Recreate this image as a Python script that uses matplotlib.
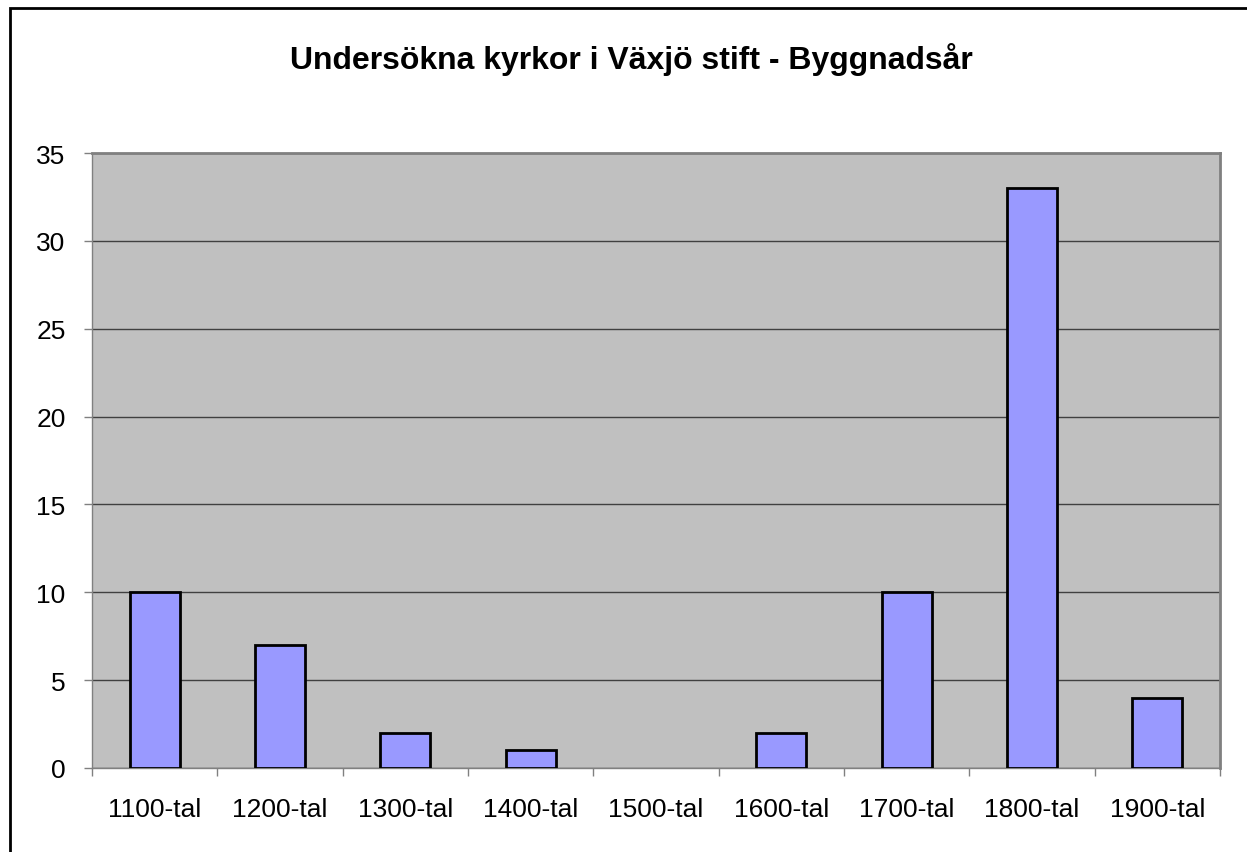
import matplotlib
matplotlib.use("Agg")
import matplotlib.pyplot as plt
from matplotlib.patches import Rectangle
import numpy as np

plt.rcParams['font.family'] = ['Liberation Sans', 'DejaVu Sans']

# data
categories = ['1100-tal', '1200-tal', '1300-tal', '1400-tal', '1500-tal',
              '1600-tal', '1700-tal', '1800-tal', '1900-tal']
counts = [10, 7, 2, 1, 0, 2, 10, 33, 4]
y_ticks = [0, 5, 10, 15, 20, 25, 30, 35]
title = 'Undersökna kyrkor i Växjö stift - Byggnadsår'

fig = plt.figure(figsize=(12.47, 8.53), dpi=100)
ax = fig.add_axes([92 / 1247, 84 / 853, (1220 - 92) / 1247, (769 - 154) / 853])

# outer chart border (left and top visible)
fig.patches.append(Rectangle((10 / 1247, -0.1), 1.2, 1 - 9 / 853 + 0.1,
                             transform=fig.transFigure, fill=False,
                             edgecolor='black', linewidth=2, zorder=0))

x = np.arange(len(categories))
ax.set_facecolor('#c0c0c0')
# zero-height bars are not drawn in the original
shown = [i for i, c in enumerate(counts) if c > 0]
ax.bar(x[shown], [counts[i] for i in shown], width=0.4, color='#9999ff',
       edgecolor='black', linewidth=2, zorder=3)

ax.set_xlim(-0.5, len(categories) - 0.5)
ax.set_ylim(0, 35)
ax.set_yticks(y_ticks)
ax.yaxis.grid(True, color='#404040', linewidth=1)
ax.set_axisbelow(True)

# ticks between categories, labels at the centers
ax.set_xticks(np.arange(len(categories) + 1) - 0.5)
ax.set_xticklabels([])
ax.set_xticks(x, minor=True)
ax.set_xticklabels(categories, minor=True)
ax.tick_params(axis='x', which='major', length=6, color='#808080', width=1)
ax.tick_params(axis='x', which='minor', length=0, pad=21, labelsize=19)
ax.tick_params(axis='y', length=6, color='#808080', width=1, pad=13, labelsize=19)

for side in ['top', 'right']:
    ax.spines[side].set_color('#808080')
    ax.spines[side].set_linewidth(2)
for side in ['left', 'bottom']:
    ax.spines[side].set_color('#808080')
    ax.spines[side].set_linewidth(1)

fig.text(631 / 1247, 1 - 69 / 853, title, ha='center', va='baseline',
         fontsize=23, fontweight='bold')

fig.savefig('out.png', dpi=100)
